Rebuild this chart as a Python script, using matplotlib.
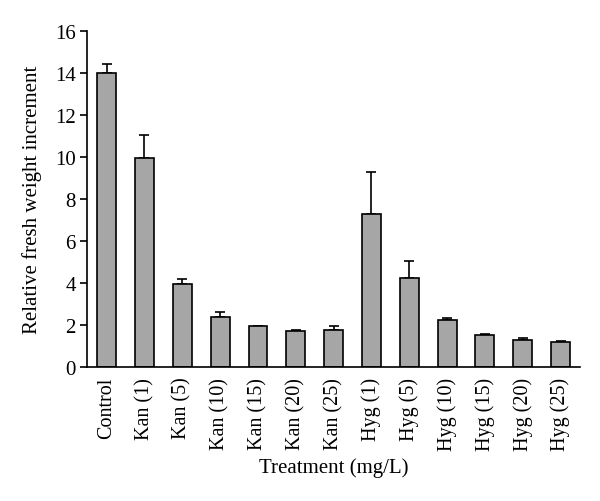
import matplotlib.pyplot as plt
import numpy as np

plt.rcParams["font.family"] = ["Liberation Serif", "DejaVu Serif"]

labels = ["Control", "Kan (1)", "Kan (5)", "Kan (10)", "Kan (15)", "Kan (20)", "Kan (25)",
          "Hyg (1)", "Hyg (5)", "Hyg (10)", "Hyg (15)", "Hyg (20)", "Hyg (25)"]
valeurs = [14.0, 9.95, 3.95, 2.4, 1.93, 1.73, 1.78, 7.3, 4.25, 2.22, 1.52, 1.3, 1.2]
erreurs = [0.45, 1.1, 0.25, 0.23, 0.04, 0.02, 0.19, 2.0, 0.8, 0.12, 0.06, 0.06, 0.03]

x = np.arange(len(labels))

fig = plt.figure(figsize=(6, 5.02), dpi=100)
ax = fig.add_axes([0.145, 0.267, 0.822, 0.669])

ax.bar(x, valeurs, width=0.5, color="#a6a6a6", edgecolor="black", linewidth=1.2, zorder=2)
ax.errorbar(x, valeurs, yerr=[np.zeros(len(erreurs)), erreurs], fmt="none",
            ecolor="black", elinewidth=1.2, capsize=3.5, capthick=1.2, zorder=1)

ax.set_xlim(-0.52, 12.52)
ax.set_ylim(0, 16)
ax.set_yticks(np.arange(0, 17, 2))
ax.set_xticks(x)
ax.set_xticklabels(labels, rotation=90, fontsize=14.5)
ax.tick_params(axis="x", length=0, pad=7)
ax.tick_params(axis="y", labelsize=15, direction="out", length=5, width=1.2, pad=3)

ax.spines["top"].set_visible(False)
ax.spines["right"].set_visible(False)
ax.spines["left"].set_linewidth(1.2)
ax.spines["bottom"].set_linewidth(1.2)

ax.set_ylabel("Relative fresh weight increment", fontsize=15)
ax.set_xlabel("Treatment (mg/L)", fontsize=15)
ax.yaxis.set_label_coords(-0.092, 0.5)
ax.xaxis.set_label_coords(0.5, -0.27)

fig.savefig("out.png", dpi=100)
